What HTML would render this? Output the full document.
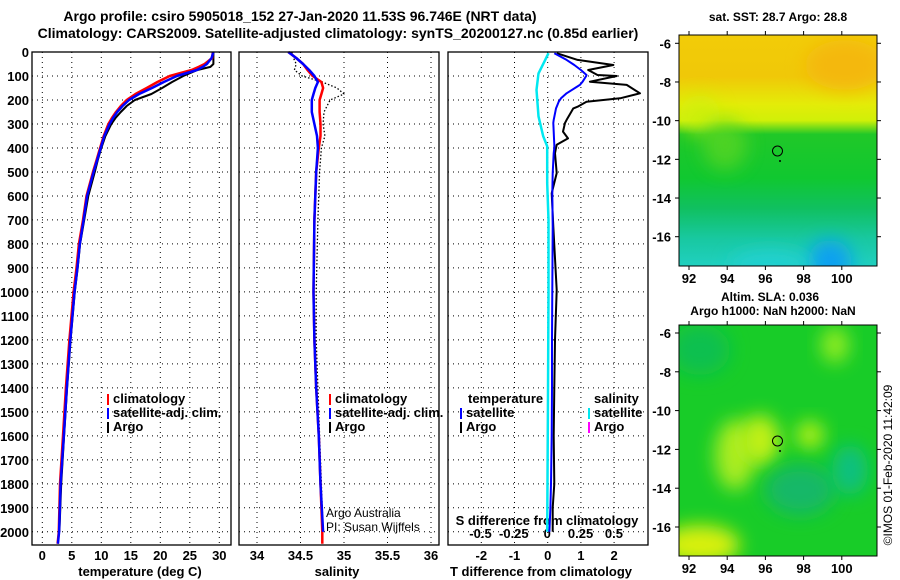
<!DOCTYPE html>
<html><head><meta charset="utf-8"><style>
html,body{margin:0;padding:0;background:#fff;width:900px;height:580px;overflow:hidden}
svg{display:block;font-family:"Liberation Sans",sans-serif;font-weight:bold}
</style></head><body>
<svg id="c" width="900" height="580" viewBox="0 0 900 580" xmlns="http://www.w3.org/2000/svg">
<defs>
<filter id="bl" x="-50%" y="-50%" width="200%" height="200%"><feGaussianBlur stdDeviation="9"/></filter>
<clipPath id="m1c"><rect x="679" y="35" width="198" height="231"/></clipPath>
<clipPath id="m2c"><rect x="679" y="325" width="198" height="231"/></clipPath>
<linearGradient id="g1" x1="0" y1="0" x2="0" y2="1">
<stop offset="0" stop-color="#f2cc08"/><stop offset="0.18" stop-color="#f0c808"/><stop offset="0.3" stop-color="#e4ec08"/><stop offset="0.37" stop-color="#d0f008"/><stop offset="0.43" stop-color="#20c828"/><stop offset="0.62" stop-color="#10c830"/><stop offset="0.75" stop-color="#10c060"/><stop offset="0.88" stop-color="#18c8a0"/><stop offset="1" stop-color="#20d0c0"/>
</linearGradient>
</defs>
<g id="titles" font-size="14" text-anchor="middle">
<text x="300" y="21">Argo profile: csiro 5905018_152 27-Jan-2020 11.53S 96.746E (NRT data)</text>
<text x="338" y="38">Climatology: CARS2009. Satellite-adjusted climatology: synTS_20200127.nc (0.85d earlier)</text>
</g>
<g id="maps">
<g clip-path="url(#m1c)">
<rect x="679" y="35" width="198" height="231" fill="url(#g1)"/>
<ellipse cx="845" cy="65" rx="40" ry="25" fill="#f4b808" filter="url(#bl)"/>
<ellipse cx="700" cy="115" rx="20" ry="20" fill="#c8f010" filter="url(#bl)" opacity="0.6"/>
<ellipse cx="725" cy="145" rx="22" ry="25" fill="#60d820" filter="url(#bl)" opacity="0.7"/>
<ellipse cx="830" cy="262" rx="22" ry="22" fill="#10a0f0" filter="url(#bl)"/>
<ellipse cx="770" cy="265" rx="40" ry="14" fill="#20d0d0" filter="url(#bl)"/>
</g>
<rect x="679" y="35" width="198" height="231" fill="none" stroke="#000"/>
<g clip-path="url(#m2c)">
<rect x="679" y="325" width="198" height="231" fill="#18cc28"/>
<ellipse cx="700" cy="350" rx="30" ry="25" fill="#10c050" filter="url(#bl)"/>
<ellipse cx="835" cy="345" rx="14" ry="18" fill="#90ec20" filter="url(#bl)"/>
<ellipse cx="735" cy="455" rx="20" ry="35" fill="#a8ec20" filter="url(#bl)"/>
<ellipse cx="760" cy="440" rx="20" ry="25" fill="#c0f018" filter="url(#bl)"/>
<ellipse cx="810" cy="435" rx="14" ry="14" fill="#b0f018" filter="url(#bl)"/>
<ellipse cx="800" cy="490" rx="35" ry="25" fill="#18b868" filter="url(#bl)"/>
<ellipse cx="850" cy="470" rx="18" ry="25" fill="#10c080" filter="url(#bl)"/>
<ellipse cx="700" cy="545" rx="40" ry="20" fill="#d8f010" filter="url(#bl)"/>
</g>
<rect x="679" y="325" width="198" height="231" fill="none" stroke="#000"/>
<circle cx="777.5" cy="151" r="5" fill="none" stroke="#000"/>
<circle cx="780" cy="161" r="1" fill="#000"/>
<circle cx="777.5" cy="441" r="5" fill="none" stroke="#000"/>
<circle cx="780" cy="451" r="1" fill="#000"/>
<text x="778" y="21" font-size="12" text-anchor="middle">sat. SST: 28.7 Argo: 28.8</text>
<text x="770" y="301" font-size="12" text-anchor="middle">Altim. SLA: 0.036</text>
<text x="773" y="315" font-size="12" text-anchor="middle">Argo h1000: NaN h2000: NaN</text>
<text transform="translate(892,465) rotate(-90)" font-size="12" font-weight="normal" text-anchor="middle">©IMOS 01-Feb-2020 11:42:09</text>
</g>
<g id="plots"></g>
</svg>
<script>
// ---- data ----
const depthT = [0,25,50,62,75,100,125,150,175,200,225,250,275,300,350,400,450,500,600,700,800,900,1000,1200,1400,1600,1800,2000,2050];
const climT  = [28.9,28.8,27.5,26.5,25.3,21.6,19.5,17.7,15.8,14.3,13.3,12.5,11.8,11.2,10.4,9.8,9.2,8.6,7.5,6.9,6.2,5.8,5.3,4.6,4.0,3.5,3.0,2.8,2.6];
const satT   = [29.0,28.7,27.9,27.2,26.2,22.8,20.6,18.6,16.4,14.7,13.6,12.7,12.0,11.4,10.5,9.9,9.3,8.7,7.6,7.0,6.35,5.95,5.45,4.75,4.15,3.65,3.1,2.85,2.65];
const argoT  = [29.0,29.0,29.0,28.5,26.3,23.9,22.0,20.3,18.5,15.7,14.3,13.3,12.4,11.7,10.7,10.0,9.4,8.9,7.8,7.1,6.4,6.0,5.5,4.8,4.2,3.7,3.2,2.9];
const depthS = [0,25,50,75,100,125,150,175,200,250,300,350,400,500,700,1000,1200,1400,1600,1800,2000,2050];
const climS  = [34.36,34.45,34.53,34.58,34.64,34.74,34.76,34.74,34.72,34.72,34.73,34.73,34.71,34.68,34.66,34.65,34.66,34.68,34.71,34.73,34.75,34.75];
const satS   = [34.36,34.45,34.53,34.60,34.66,34.70,34.67,34.65,34.63,34.63,34.66,34.69,34.70,34.68,34.66,34.65,34.66,34.68,34.71,34.73,34.76];
const argoS  = [34.40,34.42,34.45,34.43,34.52,34.75,34.92,35.00,34.84,34.77,34.76,34.78,34.74,34.72,34.70,34.68,34.68,34.70,34.72,34.74,34.76];
const depthD = [5,33,54,75,96,100,124,137,172,193,207,228,235,283,296,332,360,387,400,422,505,589,728,992,1200,1400,1600,1800,1900,2000];
const argoDT = [0.27,0.9,1.98,1.22,1.5,2.08,1.27,2.38,2.78,2.18,1.17,0.9,0.77,0.57,0.52,0.46,0.61,0.27,0.25,0.22,0.27,0.12,0.17,0.27,0.22,0.2,0.18,0.2,0.15,0.15];
const satDT  = [0.2,0.57,0.8,1.0,1.17,1.16,1.05,0.97,0.57,0.4,0.33,0.27,0.25,0.18,0.17,0.18,0.19,0.2,0.2,0.18,0.15,0.14,0.15,0.14,0.13,0.13,0.12,0.1,0.08,0.05];
const depthDS = [5,33,89,158,268,351,393,546,700,1000,1500,2000];
const satDS   = [0.01,-0.015,-0.065,-0.08,-0.065,-0.03,0,0,0.01,0.01,0.005,0];
const tTicks = [0,5,10,15,20,25,30];
const sTicks = [34,34.5,35,35.5,36];
const sTickLabels = ["34","34.5","35","35.5","36"];
const dtTicks = [-2,-1,0,1,2];
const dsTicks = [-0.5,-0.25,0,0.25,0.5];
const dsTickLabels = ["-0.5","-0.25","0","0.25","0.5"];
const depthTicks = [0,100,200,300,400,500,600,700,800,900,1000,1100,1200,1300,1400,1500,1600,1700,1800,1900,2000];
const lonTicks = [92,94,96,98,100];
const latTicks = [-6,-8,-10,-12,-14,-16];

// ---- scales ----
const Y = d => 52 + d*0.2399;
const XT = t => 42.3 + t*5.9;
const XS = s => 257 + (s-34)*87;
const XDT = t => 547.7 + t*33.2;
const XDS = s => 547.2 + s*133.4;
const LON = l => 689 + (l-92)*19.1;
const LAT1 = a => 43.3 + (-6-a)*19.34;
const LAT2 = a => 333 + (-6-a)*19.4;

const NS='http://www.w3.org/2000/svg';
const root=document.getElementById('plots');
function el(tag,attrs,parent){const e=document.createElementNS(NS,tag);for(const k in attrs)e.setAttribute(k,attrs[k]);(parent||root).appendChild(e);return e;}
function txt(x,y,s,size,anchor,parent){const t=el('text',{x:x,y:y,'font-size':size,'text-anchor':anchor||'middle'},parent);t.textContent=s;return t;}

const panels=[{x0:32,x1:231,name:'temperature-panel'},{x0:239,x1:439,name:'salinity-panel'},{x0:448,x1:648,name:'difference-panel'}];
const pg=[];
panels.forEach((p,i)=>{
  const g=el('g',{});
  
  
  pg.push(g);
  depthTicks.forEach(d=>{el('line',{x1:p.x0,x2:p.x1,y1:Y(d),y2:Y(d),stroke:'#000','stroke-dasharray':'1 4','stroke-width':1},g);});
});
tTicks.forEach(t=>el('line',{x1:XT(t),x2:XT(t),y1:52,y2:545,stroke:'#000','stroke-dasharray':'1 4'},pg[0]));
sTicks.forEach(s=>el('line',{x1:XS(s),x2:XS(s),y1:52,y2:545,stroke:'#000','stroke-dasharray':'1 4'},pg[1]));
dtTicks.forEach(t=>el('line',{x1:XDT(t),x2:XDT(t),y1:52,y2:545,stroke:'#000','stroke-dasharray':'1 4'},pg[2]));

const yl=el('g',{});


depthTicks.forEach(d=>txt(29,Y(d)+5,String(d),13,'end',yl));
tTicks.forEach(t=>txt(XT(t),560,String(t),13,'middle',pg[0]));
sTicks.forEach((s,i)=>txt(XS(s),560,sTickLabels[i],13,'middle',pg[1]));
dtTicks.forEach(t=>txt(XDT(t),560,String(t),13,'middle',pg[2]));
dsTicks.forEach((s,i)=>txt(XDS(s),538,dsTickLabels[i],13,'middle',pg[2]));
txt(140,576,'temperature (deg C)',13,'middle',pg[0]);
txt(337,576,'salinity',13,'middle',pg[1]);
txt(541,576,'T difference from climatology',13,'middle',pg[2]);
txt(547,525,'S difference from climatology',13,'middle',pg[2]);

function line(xs,ys,xf,color,w,parent,name,dash){
  let pts=[];for(let i=0;i<Math.min(xs.length,ys.length);i++)pts.push(xf(xs[i]).toFixed(1)+','+Y(ys[i]).toFixed(1));
  const e=el('polyline',{points:pts.join(' '),fill:'none',stroke:color,'stroke-width':w,'stroke-linejoin':'round'},parent);
  if(dash)e.setAttribute('stroke-dasharray',dash);
  
  
  return e;
}
line(argoT,depthT,XT,'#000',2,pg[0],'argo-temperature-line');
line(climT,depthT,XT,'#f00',2.5,pg[0],'climatology-temperature-line');
line(satT,depthT,XT,'#00f',2.5,pg[0],'satellite-temperature-line');
line(argoS,depthS,XS,'#000',1.3,pg[1],'argo-salinity-line','1.5 2');
line(climS,depthS,XS,'#f00',2.5,pg[1],'climatology-salinity-line');
line(satS,depthS,XS,'#00f',2.5,pg[1],'satellite-salinity-line');
line(satDS,depthDS,XDS,'#00e8f0',2.5,pg[2],'satellite-salinity-diff-line');
line(argoDT,depthD,XDT,'#000',2,pg[2],'argo-temperature-diff-line');
line(satDT,depthD,XDT,'#00f',2,pg[2],'satellite-temperature-diff-line');

panels.forEach((p,i)=>el('rect',{x:p.x0,y:52,width:p.x1-p.x0,height:493,fill:'none',stroke:'#000','stroke-width':1.3},pg[i]));

function leg(x,y,color,label,parent,name){
  const g=el('g',{},parent);
  
  
  el('rect',{x:x,y:y-9,width:2,height:11,fill:color},g);
  txt(x+6,y,label,13,'start',g);
}
leg(107,403,'#f00','climatology',pg[0],'legend-climatology');
leg(107,417,'#00f','satellite-adj. clim.',pg[0],'legend-satellite-adj');
leg(107,431,'#000','Argo',pg[0],'legend-argo');
leg(329,403,'#f00','climatology',pg[1],'legend-climatology');
leg(329,417,'#00f','satellite-adj. clim.',pg[1],'legend-satellite-adj');
leg(329,431,'#000','Argo',pg[1],'legend-argo');
txt(468,403,'temperature',13,'start',pg[2]);
leg(460,417,'#00f','satellite',pg[2],'legend-t-satellite');
leg(460,431,'#000','Argo',pg[2],'legend-t-argo');
txt(594,403,'salinity',13,'start',pg[2]);
leg(588,417,'#00e8f0','satellite',pg[2],'legend-s-satellite');
leg(588,431,'#f0f','Argo',pg[2],'legend-s-argo');
const cr=el('g',{},pg[1]);


txt(326,517,'Argo Australia',12,'start',cr).setAttribute('font-weight','normal');
txt(326,531,'PI: Susan Wijffels',12,'start',cr).setAttribute('font-weight','normal');

function mapAxes(top,bot,LAT,name){
  const g=el('g',{});
  
  
  lonTicks.forEach(l=>{
    el('line',{x1:LON(l),x2:LON(l),y1:top,y2:top-4,stroke:'#000'},g);
    el('line',{x1:LON(l),x2:LON(l),y1:bot,y2:bot+4,stroke:'#000'},g);
    txt(LON(l),bot+17,String(l),13,'middle',g);
  });
  latTicks.forEach(a=>{
    el('line',{x1:679,x2:675,y1:LAT(a),y2:LAT(a),stroke:'#000'},g);
    el('line',{x1:877,x2:881,y1:LAT(a),y2:LAT(a),stroke:'#000'},g);
    txt(671,LAT(a)+5,String(a),13,'end',g);
  });
}
mapAxes(35,266,LAT1,'sst-map-axes');
mapAxes(325,556,LAT2,'sla-map-axes');
</script>
</body></html>
